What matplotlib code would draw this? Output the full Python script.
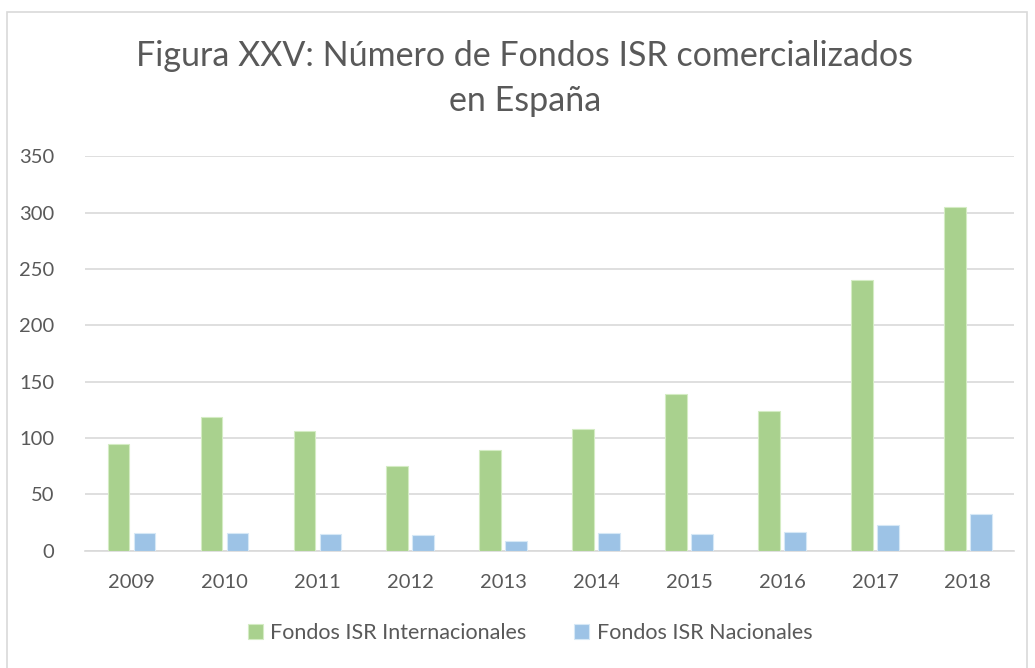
import matplotlib
matplotlib.use("Agg")
import matplotlib.pyplot as plt
from matplotlib.patches import Rectangle
import numpy as np

years = ["2009", "2010", "2011", "2012", "2013", "2014", "2015", "2016", "2017", "2018"]
internacionales = [95, 119, 106, 75, 89, 108, 139, 124, 240, 305]
nacionales = [16, 16, 15, 14, 9, 16, 15, 17, 23, 33]

TEXT = "#595959"
GREEN = "#a9d18e"
BLUE = "#9dc3e6"
GRID = "#d9d9d9"

plt.rcParams["font.family"] = ["Lato", "DejaVu Sans"]

fig = plt.figure(figsize=(10.35, 6.68), dpi=100)
ax = fig.add_axes([0.082, 0.1756, 0.898, 0.5904])

x = np.arange(len(years))
w = 0.23
ax.bar(x - 0.14, internacionales, w, color=GREEN, edgecolor="#d4ecc4", linewidth=0.8,
       label="Fondos ISR Internacionales", zorder=3)
ax.bar(x + 0.14, nacionales, w, color=BLUE, edgecolor="#d6e8f6", linewidth=0.8,
       label="Fondos ISR Nacionales", zorder=3)

ax.set_xlim(-0.5, len(years) - 0.5)
ax.set_ylim(0, 350)
ax.set_yticks(range(0, 351, 50))
ax.set_xticks(x)
ax.set_xticklabels(years)
ax.grid(axis="y", color=GRID, linewidth=1.2, zorder=0)
for s in ["top", "right", "left"]:
    ax.spines[s].set_visible(False)
ax.spines["bottom"].set_color(GRID)
ax.spines["bottom"].set_linewidth(1.2)
ax.tick_params(axis="both", length=0, labelsize=14.5, colors=TEXT)
ax.tick_params(axis="x", pad=17)
ax.tick_params(axis="y", pad=22)

fig.text(0.507, 0.8825, "Figura XXV: Número de Fondos ISR comercializados\nen España",
         ha="center", va="center", fontsize=24.5, color=TEXT, linespacing=1.5)

leg = fig.legend(loc="center", bbox_to_anchor=(0.512, 0.052), ncol=2, frameon=False,
                 fontsize=15.5, handlelength=0.7, handleheight=0.7, columnspacing=2.2,
                 handletextpad=0.35)
for t in leg.get_texts():
    t.set_color(TEXT)

fig.patches.append(Rectangle((7 / 1035, -0.01), 1020 / 1035, 1 - 12 / 668 + 0.01,
                             transform=fig.transFigure, fill=False,
                             edgecolor=GRID, linewidth=1.2))

fig.savefig("out.png", dpi=100)
